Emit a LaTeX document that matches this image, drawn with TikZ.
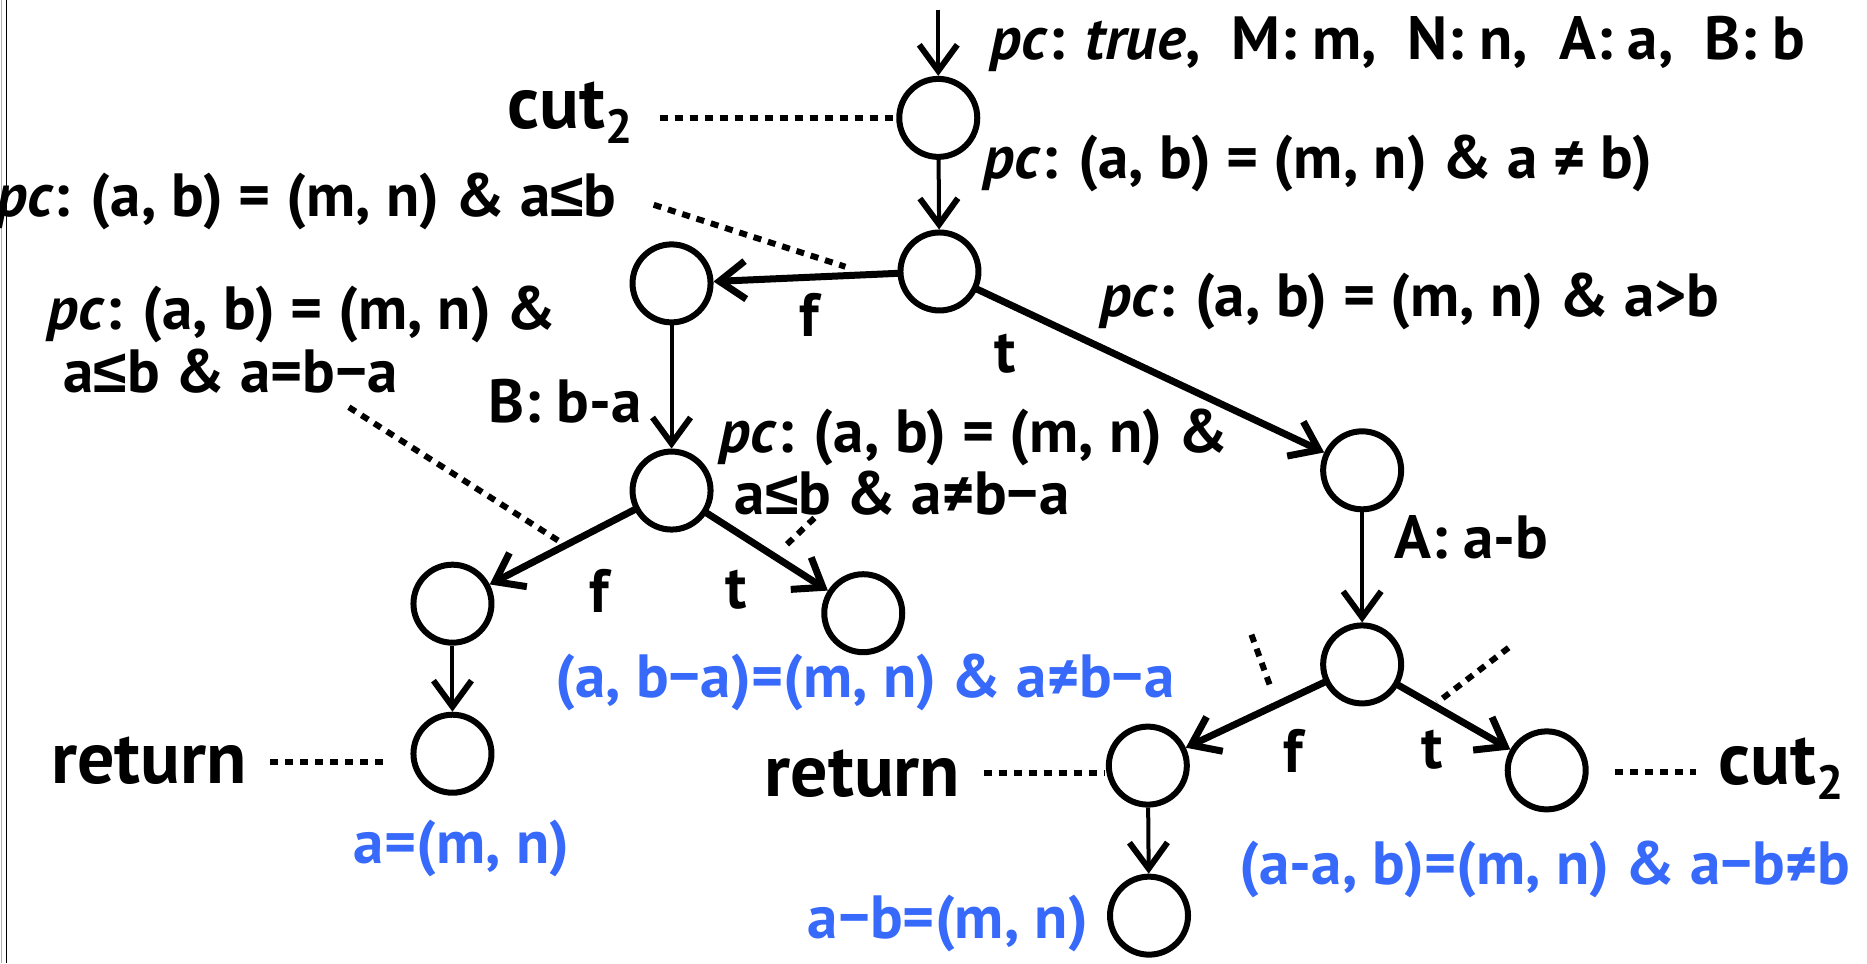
\documentclass[tikz,border=0pt]{standalone}
\usepackage{fontspec}
\setmainfont{PT Sans}
\newfontfamily\symf{Liberation Sans}
\newcommand{\myle}{{\symf ≤}}
\usetikzlibrary{arrows.meta}
\definecolor{cblue}{RGB}{55,105,250}
\begin{document}
\begin{tikzpicture}[x=1.1907pt,y=-1.1907pt,
  st/.style={circle,draw,line width=6pt,minimum size=78pt,inner sep=0pt},
  lbl/.style={inner sep=0pt,font=\fontsize{61}{70}\selectfont\bfseries},
  big/.style={inner sep=0pt,font=\fontsize{74}{84}\selectfont\bfseries},
  blu/.style={lbl,text=cblue},
  firstline/.style={lbl,text depth=0pt},
  thin/.style={line width=4pt,-{Straight Barb[length=26pt,width=38pt,line width=6pt]}},
  thk/.style={line width=7pt,line cap=round,-{Straight Barb[length=26pt,width=38pt,line width=7pt]}},
  dots/.style={line width=6pt,dash pattern=on 8pt off 7pt}]
\useasboundingbox (0,0) rectangle (1568,809);
\draw[gray!60,line width=1pt] (1,0) -- (1,809);
\draw[line width=1.6pt] (5.5,0) -- (5.5,809);
% states
\node[st] (n0) at (788,99) {};
\node[st] (n1) at (789,228) {};
\node[st] (nl) at (564,238) {};
\node[st] (nl2) at (564,412) {};
\node[st] (nll) at (380,507) {};
\node[st] (nlr) at (725,515) {};
\node[st] (nlll) at (380,633) {};
\node[st] (nr) at (1144,395) {};
\node[st] (nr2) at (1144,558) {};
\node[st] (nr2l) at (964,643) {};
\node[st] (nr2r) at (1299,647) {};
\node[st] (nr2ll) at (965,769) {};
\coordinate (start) at (788,8);
% edges
\draw[thin] (start) -- (n0);
\draw[thin] (n0) -- (n1);
\draw[thk] (n1) -- (nl);
\draw[thk] (n1) -- (nr);
\draw[thin] (nl) -- (nl2);
\draw[thk] (nl2) -- (nll);
\draw[thk] (nl2) -- (nlr);
\draw[thin] (nll) -- (nlll);
\draw[thin] (nr) -- (nr2);
\draw[thk] (nr2) -- (nr2l);
\draw[thk] (nr2) -- (nr2r);
\draw[thin] (nr2l) -- (nr2ll);
% texts
\node[lbl,anchor=base west] (t1) at (832,50) {\textit{pc}: \textit{true},\ \ M: m,\ \ N: n,\ \ A: a,\ \ B: b};
\node[big,anchor=base west] (cutA) at (426,108) {cut\raisebox{-0.2em}{\fontsize{48}{48}\selectfont 2}};
\node[lbl,anchor=base west] (t3) at (826,150) {\textit{pc}: (a, b) = (m, n) \& a ≠ b)};
\node[lbl,anchor=base east] (t4) at (518,182) {\textit{pc}: (a, b) = (m, n) \& a\myle b};
\node[lbl,anchor=base] (f1) at (680,283) {f};
\node[lbl,anchor=base] (t1l) at (844,313) {t};
\node[lbl,anchor=base west] (t6) at (924,266) {\textit{pc}: (a, b) = (m, n) \& a>b};
\node[firstline,anchor=base west] (t7a) at (40,277) {\textit{pc}: (a, b) = (m, n) \&};
\node[lbl,anchor=base west] (t7b) at (53,330) {a\myle b \& a=b−a};
\node[lbl,anchor=base east] (bba) at (539,355) {B: b-a};
\node[firstline,anchor=base west] (t9a) at (604,380) {\textit{pc}: (a, b) = (m, n) \&};
\node[lbl,anchor=base west] (t9b) at (617,432) {a\myle b \& a≠b−a};
\node[lbl,anchor=base] (f2) at (503,514) {f};
\node[lbl,anchor=base] (t2) at (618,511) {t};
\node[blu,anchor=base west] (b1) at (466,586) {(a, b−a)=(m, n) \& a≠b−a};
\node[big,anchor=base west] (retA) at (43,658) {return};
\node[blu,anchor=base west] (b2) at (297,725) {a=(m, n)};
\node[lbl,anchor=base west] (aab) at (1171,469) {A: a-b};
\node[lbl,anchor=base] (f3) at (1086,649) {f};
\node[lbl,anchor=base] (t3l) at (1203,645) {t};
\node[big,anchor=base west] (retB) at (642,669) {return};
\node[big,anchor=base west] (cutB) at (1443,659) {cut\raisebox{-0.2em}{\fontsize{48}{48}\selectfont 2}};
\node[blu,anchor=base west] (b3) at (1041,743) {(a-a, b)=(m, n) \& a−b≠b};
\node[blu,anchor=base east] (b4) at (914,788) {a−b=(m, n)};
% dotted leaders
\coordinate (d1a) at (554,99);
\draw[dots] (d1a) -- (n0);
\coordinate (d2a) at (549,172); \coordinate (d2b) at (710,224);
\draw[dots] (d2a) -- (d2b);
\coordinate (d3a) at (293,342); \coordinate (d3b) at (472,456);
\draw[dots] (d3a) -- (d3b);
\coordinate (d4a) at (684,435); \coordinate (d4b) at (658,460);
\draw[dots] (d4a) -- (d4b);
\coordinate (d5a) at (1051,533); \coordinate (d5b) at (1067,577);
\draw[dots] (d5a) -- (d5b);
\coordinate (d6a) at (1267,544); \coordinate (d6b) at (1207,590);
\draw[dots] (d6a) -- (d6b);
\coordinate (d7a) at (227,640); \coordinate (d7b) at (327,640);
\draw[dots] (d7a) -- (d7b);
\coordinate (d8a) at (826,649); \coordinate (d8b) at (927,649);
\draw[dots] (d8a) -- (d8b);
\coordinate (d9a) at (1356,648); \coordinate (d9b) at (1424,648);
\draw[dots] (d9a) -- (d9b);
\end{tikzpicture}
\end{document}
